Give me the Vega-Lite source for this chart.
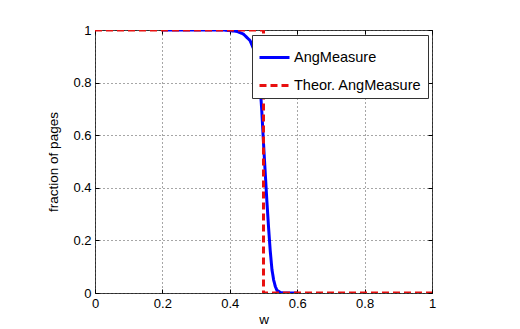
{
  "$schema": "https://vega.github.io/schema/vega-lite/v6.json",
  "autosize": {"type": "none"},
  "padding": {"left": 95, "top": 30, "right": 88, "bottom": 36},
  "width": 337,
  "height": 263,
  "background": "white",
  "config": {
    "view": {"stroke": "#444", "strokeWidth": 1},
    "font": "Liberation Sans",
    "axis": {
      "labelFont": "Liberation Sans",
      "titleFont": "Liberation Sans",
      "labelFontSize": 13,
      "titleFontSize": 13.5,
      "titleFontWeight": "normal",
      "labelColor": "#000",
      "titleColor": "#000",
      "domainColor": "#444",
      "tickColor": "#000",
      "tickSize": -4,
      "gridColor": "#000",
      "gridDash": [1, 3],
      "gridOpacity": 0.7
    }
  },
  "data": {
    "values": [
      {"s": "AngMeasure", "i": 0, "w": 0.2, "v": 1},
      {"s": "AngMeasure", "i": 1, "w": 0.38, "v": 1},
      {"s": "AngMeasure", "i": 2, "w": 0.42, "v": 0.995},
      {"s": "AngMeasure", "i": 3, "w": 0.44, "v": 0.985},
      {"s": "AngMeasure", "i": 4, "w": 0.46, "v": 0.96},
      {"s": "AngMeasure", "i": 5, "w": 0.47, "v": 0.93},
      {"s": "AngMeasure", "i": 6, "w": 0.48, "v": 0.88},
      {"s": "AngMeasure", "i": 7, "w": 0.49, "v": 0.79},
      {"s": "AngMeasure", "i": 8, "w": 0.495, "v": 0.69},
      {"s": "AngMeasure", "i": 9, "w": 0.5, "v": 0.57},
      {"s": "AngMeasure", "i": 10, "w": 0.505, "v": 0.46},
      {"s": "AngMeasure", "i": 11, "w": 0.51, "v": 0.35},
      {"s": "AngMeasure", "i": 12, "w": 0.515, "v": 0.25},
      {"s": "AngMeasure", "i": 13, "w": 0.52, "v": 0.16},
      {"s": "AngMeasure", "i": 14, "w": 0.525, "v": 0.09},
      {"s": "AngMeasure", "i": 15, "w": 0.53, "v": 0.05},
      {"s": "AngMeasure", "i": 16, "w": 0.535, "v": 0.025},
      {"s": "AngMeasure", "i": 17, "w": 0.54, "v": 0.01},
      {"s": "AngMeasure", "i": 18, "w": 0.55, "v": 0.002},
      {"s": "AngMeasure", "i": 19, "w": 0.56, "v": 0},
      {"s": "AngMeasure", "i": 20, "w": 0.6, "v": 0},
      {"s": "Theor. AngMeasure", "i": 0, "w": 0, "v": 1},
      {"s": "Theor. AngMeasure", "i": 1, "w": 0.5, "v": 1},
      {"s": "Theor. AngMeasure", "i": 2, "w": 0.5, "v": 0},
      {"s": "Theor. AngMeasure", "i": 3, "w": 1, "v": 0}
    ]
  },
  "layer": [
    {
      "mark": {"type": "line", "strokeWidth": 3, "clip": true},
      "encoding": {
        "x": {"field": "w", "type": "quantitative", "scale": {"domain": [0, 1], "nice": false},
              "axis": {"title": "w", "values": [0, 0.2, 0.4, 0.6, 0.8, 1], "format": "~g", "labelPadding": 8, "titlePadding": 2, "grid": true, "domain": false, "labelFlush": false}},
        "y": {"field": "v", "type": "quantitative", "scale": {"domain": [0, 1], "nice": false},
              "axis": {"title": "fraction of pages", "values": [0, 0.2, 0.4, 0.6, 0.8, 1], "format": "~g", "labelPadding": 8, "titlePadding": 12, "grid": true, "domain": false, "labelFlush": false}},
        "color": {"field": "s", "type": "nominal",
                  "scale": {"domain": ["AngMeasure", "Theor. AngMeasure"], "range": ["#0000ff", "#e81010"]},
                  "legend": {"title": null, "orient": "none", "legendX": 157, "legendY": 5,
                             "symbolType": "stroke", "symbolSize": 900, "symbolStrokeWidth": 3,
                             "labelFontSize": 14.5, "labelFont": "Liberation Sans", "labelColor": "#000",
                             "strokeColor": "#333", "fillColor": "white", "padding": 6, "rowPadding": 5, "labelOffset": 3}},
        "strokeDash": {"field": "s", "type": "nominal",
                       "scale": {"domain": ["AngMeasure", "Theor. AngMeasure"], "range": [[1, 0], [7, 4]]},
                       "legend": null},
        "order": {"field": "i", "type": "quantitative"}
      }
    },
    {
      "mark": {"type": "point", "opacity": 0},
      "encoding": {
        "x": {"field": "w", "type": "quantitative",
              "axis": {"orient": "top", "title": null, "labels": false, "grid": false, "domain": false, "values": [0, 0.2, 0.4, 0.6, 0.8, 1]}},
        "y": {"field": "v", "type": "quantitative",
              "axis": {"orient": "right", "title": null, "labels": false, "grid": false, "domain": false, "values": [0, 0.2, 0.4, 0.6, 0.8, 1]}}
      }
    }
  ],
  "resolve": {"axis": {"x": "independent", "y": "independent"}}
}
